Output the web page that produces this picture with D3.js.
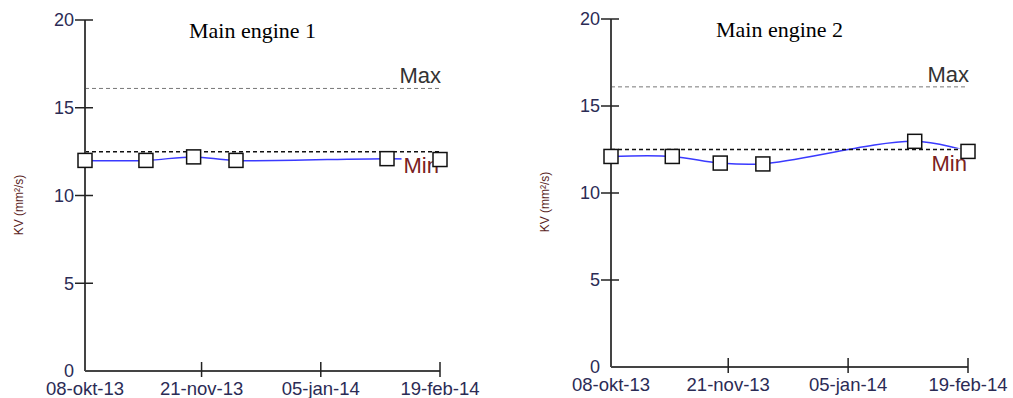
<!DOCTYPE html>
<html><head><meta charset="utf-8">
<script src="https://cdn.jsdelivr.net/npm/d3@7"></script>
<style>body{margin:0;background:#fff}svg{display:block}</style>
</head><body>
<svg id="c" width="1013" height="398"></svg>
<script>
const dates = ["2013-10-08","2013-10-31","2013-11-18","2013-12-04","2014-01-30","2014-02-19"];
const engine1 = [12.0, 12.0, 12.2, 12.0, 12.1, 12.05];
const engine2 = [12.1, 12.1, 11.72, 11.67, 12.97, 12.39];
const titles = ["Main engine 1", "Main engine 2"];
const maxLimit = 16.1;
const minLimit = 12.5;
const yTicks = [0, 5, 10, 15, 20];
const xTickDates = ["2013-10-08","2013-11-21","2014-01-05","2014-02-19"];
const xTickLabels = ["08-okt-13","21-nov-13","05-jan-14","19-feb-14"];
const yLabel = "KV (mm²/s)";

const parse = d3.timeParse("%Y-%m-%d");
const svg = d3.select("#c");
const sans = "'Liberation Sans', Arial, sans-serif";

const panels = [
  {x0: 85, x1: 440, yTop: 20, yBot: 371, vals: engine1, title: titles[0], labY: 205},
  {x0: 611, x1: 968, yTop: 19, yBot: 367, vals: engine2, title: titles[1], labY: 202}
];

panels.forEach(p => {
  const g = svg.append("g");
  const x = d3.scaleTime().domain([parse(xTickDates[0]), parse(xTickDates[3])]).range([p.x0, p.x1]);
  const y = d3.scaleLinear().domain([0, 20]).range([p.yBot, p.yTop]);
  const data = dates.map((d, i) => ({d: parse(d), v: p.vals[i]}));

  // series line
  g.append("path").datum(data)
    .attr("d", d3.line().x(d => x(d.d)).y(d => y(d.v)).curve(d3.curveCatmullRom.alpha(0.5)))
    .attr("fill", "none").attr("stroke", "#3a3aff").attr("stroke-width", 1.5);

  // Min label background
  const minBase = y(minLimit) + 21;
  const minT = g.append("text").attr("x", p.x1 - 1).attr("y", minBase)
    .attr("text-anchor", "end").attr("font-family", sans).attr("font-size", 22)
    .attr("fill", "#7a2222").text("Min");
  const bb = minT.node().getBBox();
  g.insert("rect", "text").attr("x", bb.x - 2).attr("y", minBase - 22).attr("width", bb.width + 4).attr("height", 27).attr("fill", "#fff");

  // limit lines
  g.append("line").attr("x1", p.x0).attr("x2", p.x1).attr("y1", y(maxLimit)).attr("y2", y(maxLimit))
    .attr("stroke", "#777").attr("stroke-width", 1).attr("stroke-dasharray", "4,3");
  g.append("line").attr("x1", p.x0).attr("x2", p.x1).attr("y1", y(minLimit)).attr("y2", y(minLimit))
    .attr("stroke", "#111").attr("stroke-width", 1.5).attr("stroke-dasharray", "4,3");

  g.append("text").attr("x", p.x1 + 1).attr("y", y(maxLimit) - 5)
    .attr("text-anchor", "end").attr("font-family", sans).attr("font-size", 22)
    .attr("fill", "#333").text("Max");

  // axes
  g.append("line").attr("x1", p.x0).attr("x2", p.x0).attr("y1", y(20)).attr("y2", y(0)).attr("stroke", "#444").attr("stroke-width", 2);
  g.append("line").attr("x1", p.x0).attr("x2", p.x1).attr("y1", y(0)).attr("y2", y(0)).attr("stroke", "#444").attr("stroke-width", 2);

  yTicks.forEach(t => {
    if (t > 0) g.append("line").attr("x1", p.x0 - 10).attr("x2", p.x0 + 8).attr("y1", y(t)).attr("y2", y(t)).attr("stroke", "#222").attr("stroke-width", 1.5);
    g.append("text").attr("x", p.x0 - 11).attr("y", y(t)).attr("dy", "0.36em")
      .attr("text-anchor", "end").attr("font-family", sans).attr("font-size", 18)
      .attr("fill", "#2b2b55").text(t);
  });
  xTickDates.forEach((d, i) => {
    const xx = x(parse(d));
    if (i > 0) g.append("line").attr("x1", xx).attr("x2", xx).attr("y1", y(0) - 9).attr("y2", y(0) + 6).attr("stroke", "#222").attr("stroke-width", 1.5);
    g.append("text").attr("x", xx).attr("y", y(0) + 24)
      .attr("text-anchor", "middle").attr("font-family", sans).attr("font-size", 18.5)
      .attr("fill", "#2b2b55").text(xTickLabels[i]);
  });

  // y label
  g.append("text").attr("transform", `translate(${p.x0 - 62},${p.labY}) rotate(-90)`)
    .attr("text-anchor", "middle").attr("font-family", sans).attr("font-size", 12)
    .attr("fill", "#5a1e1e").text(yLabel);

  // title
  g.append("text").attr("x", (p.x0 + p.x1) / 2 - 10).attr("y", p.yTop + 18)
    .attr("text-anchor", "middle").attr("font-family", "'Liberation Serif', 'Times New Roman', serif")
    .attr("font-size", 22).attr("fill", "#000").text(p.title);

  // markers
  g.selectAll("rect.m").data(data).enter().append("rect").attr("class", "m")
    .attr("x", d => x(d.d) - 7).attr("y", d => y(d.v) - 7).attr("width", 14).attr("height", 14)
    .attr("fill", "#fff").attr("stroke", "#111").attr("stroke-width", 1.5);
});
</script>
</body></html>
